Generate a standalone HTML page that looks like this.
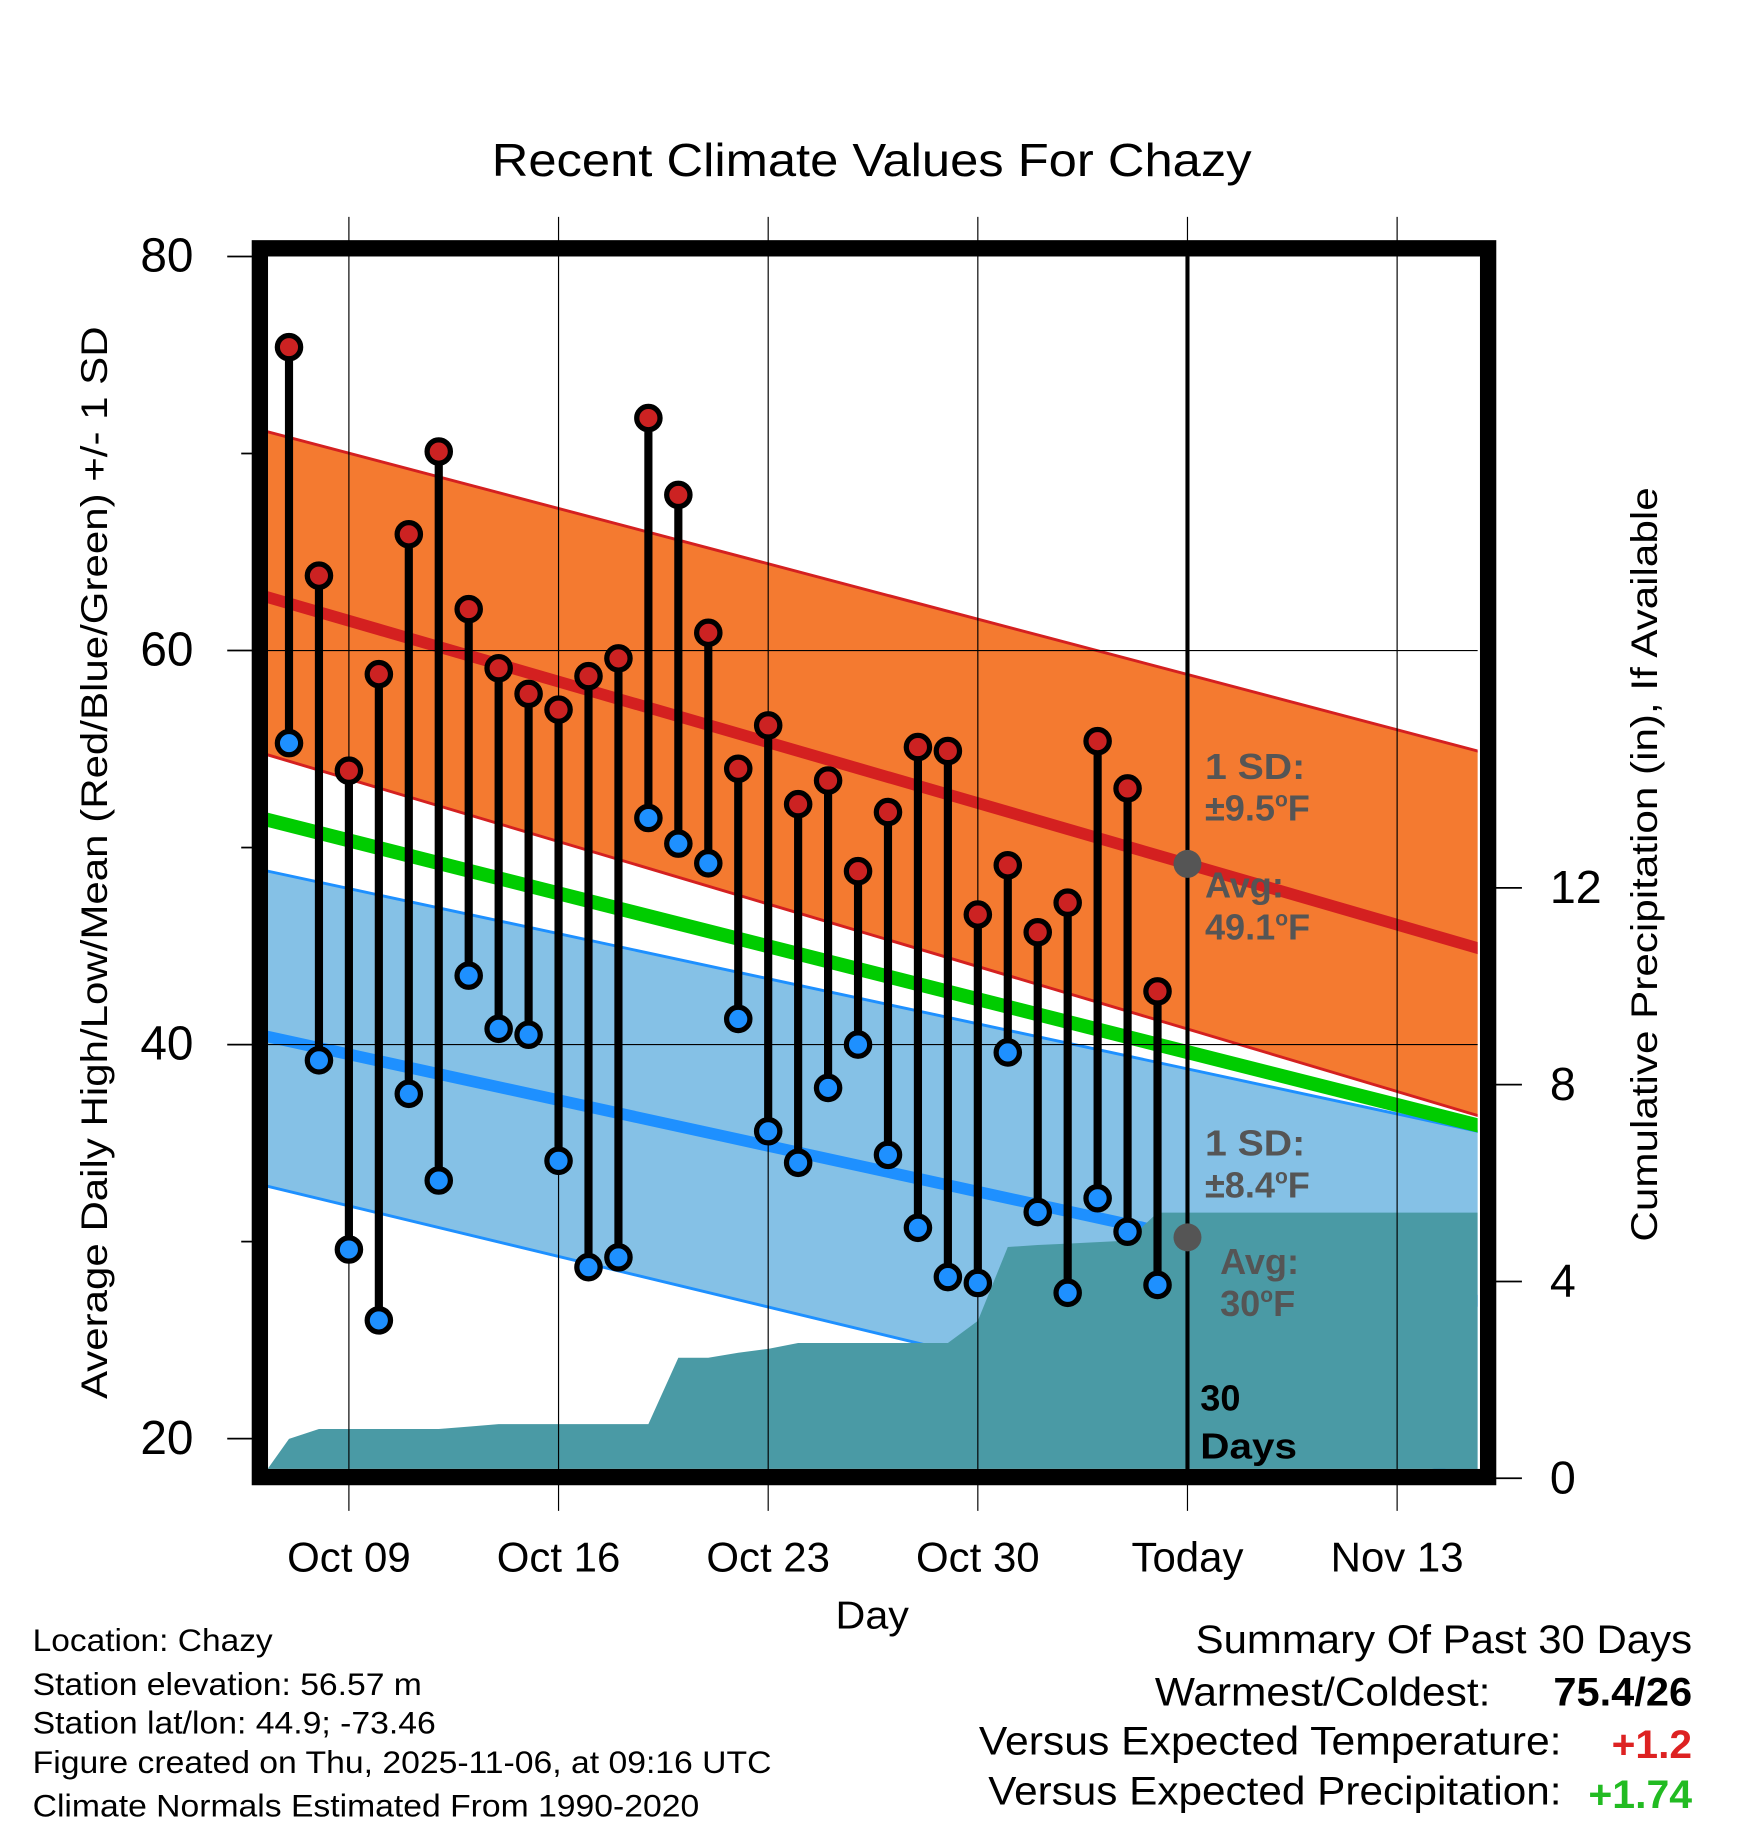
<!DOCTYPE html>
<html><head><meta charset="utf-8"><style>html,body{margin:0;padding:0;background:#fff}svg{display:block;font-family:"Liberation Sans",sans-serif}</style></head>
<body>
<svg id="chart" width="1748" height="1828" viewBox="0 0 1500 1568" preserveAspectRatio="none" xmlns="http://www.w3.org/2000/svg">
<defs><clipPath id="plotclip"><rect x="230" y="220" width="1038" height="1040"/></clipPath></defs>
<g id="bands" clip-path="url(#plotclip)"></g>
<g id="grid"></g>
<g id="marks"></g>
<rect x="223" y="213" width="1054" height="1054" fill="none" stroke="#000" stroke-width="14"/>
<g id="axes"></g>
<text x="422" y="151" font-size="40" textLength="652" lengthAdjust="spacingAndGlyphs">Recent Climate Values For Chazy</text>
<text transform="translate(92,1200) rotate(-90)" font-size="32" textLength="920" lengthAdjust="spacingAndGlyphs">Average Daily High/Low/Mean (Red/Blue/Green) +/- 1 SD</text>
<text transform="translate(1422,1065) rotate(-90)" font-size="32" textLength="647" lengthAdjust="spacingAndGlyphs">Cumulative Precipitation (in), If Available</text>
<text x="717" y="1397" font-size="33" textLength="63" lengthAdjust="spacingAndGlyphs">Day</text>
<g font-size="31" font-weight="bold" fill="#555">
<text x="1034" y="668" textLength="86" lengthAdjust="spacingAndGlyphs">1 SD:</text>
<text x="1034" y="704">±9.5<tspan font-size="18" dy="-12">o</tspan><tspan dy="12">F</tspan></text>
<text x="1034" y="770">Avg:</text>
<text x="1034" y="806">49.1<tspan font-size="18" dy="-12">o</tspan><tspan dy="12">F</tspan></text>
<text x="1034" y="991" textLength="86" lengthAdjust="spacingAndGlyphs">1 SD:</text>
<text x="1034" y="1027">±8.4<tspan font-size="18" dy="-12">o</tspan><tspan dy="12">F</tspan></text>
<text x="1047" y="1093">Avg:</text>
<text x="1047" y="1129">30<tspan font-size="18" dy="-12">o</tspan><tspan dy="12">F</tspan></text>
<text x="1030" y="1210" fill="#000">30</text>
<text x="1030" y="1251" fill="#000" textLength="83" lengthAdjust="spacingAndGlyphs">Days</text>
</g>
<g font-size="27" lengthAdjust="spacingAndGlyphs">
<text x="28" y="1416" textLength="206" lengthAdjust="spacingAndGlyphs">Location: Chazy</text>
<text x="28" y="1454" textLength="334" lengthAdjust="spacingAndGlyphs">Station elevation: 56.57 m</text>
<text x="28" y="1487" textLength="346" lengthAdjust="spacingAndGlyphs">Station lat/lon: 44.9; -73.46</text>
<text x="28" y="1521" textLength="634" lengthAdjust="spacingAndGlyphs">Figure created on Thu, 2025-11-06, at 09:16 UTC</text>
<text x="28" y="1558" textLength="572" lengthAdjust="spacingAndGlyphs">Climate Normals Estimated From 1990-2020</text>
</g>
<g font-size="34">
<text x="1026" y="1418" textLength="426" lengthAdjust="spacingAndGlyphs">Summary Of Past 30 Days</text>
<text x="991" y="1463" textLength="288" lengthAdjust="spacingAndGlyphs">Warmest/Coldest:</text>
<text x="1333" y="1463" font-weight="bold" textLength="119" lengthAdjust="spacingAndGlyphs">75.4/26</text>
<text x="840" y="1505" textLength="500" lengthAdjust="spacingAndGlyphs">Versus Expected Temperature:</text>
<text x="1383" y="1508" font-weight="bold" fill="#dd2222" textLength="69" lengthAdjust="spacingAndGlyphs">+1.2</text>
<text x="848" y="1548" textLength="492" lengthAdjust="spacingAndGlyphs">Versus Expected Precipitation:</text>
<text x="1363" y="1551" font-weight="bold" fill="#22bb22" textLength="89" lengthAdjust="spacingAndGlyphs">+1.74</text>
</g>
</svg>
<script>
const highs=[75.4,63.8,53.9,58.8,65.9,70.1,62.1,59.1,57.8,57.0,58.7,59.6,71.8,67.9,60.9,54.0,56.2,52.2,53.4,48.8,51.8,55.1,54.9,46.6,49.1,45.7,47.2,55.4,53.0,42.7];
const lows=[55.3,39.2,29.6,26.0,37.5,33.1,43.5,40.8,40.5,34.1,28.7,29.2,51.5,50.2,49.2,41.3,35.6,34.0,37.8,40.0,34.4,30.7,28.2,27.9,39.6,31.5,27.4,32.2,30.5,27.8];
const precip=[0.8,1.0,1.0,1.0,1.0,1.0,1.05,1.1,1.1,1.1,1.1,1.1,1.1,2.45,2.45,2.55,2.63,2.75,2.75,2.75,2.75,2.75,2.75,3.2,4.7,4.74,4.77,4.8,4.83,5.4];
const normHigh=[62.7,44.9], normHighUp=[71.1,54.9], normHighLo=[54.7,36.4];
const normMean=[51.4,35.9];
const normLow=[40.4,27.0], normLowUp=[48.8,35.6], normLowLo=[32.8,18.0];
const xTicks=["Oct 09","Oct 16","Oct 23","Oct 30","Today","Nov 13"];
const yTicks=[80,60,40,20];
const pTicks=[0,4,8,12];
const NS="http://www.w3.org/2000/svg";
const X=d=>248+d*25.7;
const Y=v=>220+(80-v)*16.9;
const P=p=>1268-p*42.2;
const xL=230,xR=1268,dL=(xL-248)/25.7,dR=(xR-248)/25.7;
function mk(parent,tag,attrs){const e=document.createElementNS(NS,tag);for(const k in attrs)e.setAttribute(k,attrs[k]);document.getElementById(parent).appendChild(e);return e;}
function lineAt(a,d){return a[0]+(a[1]-a[0])*(d-dL)/(dR-dL);}
function band(up,lo,fill,stroke,name){
 const pts=[[X(dL-1),Y(lineAt(up,dL-1))],[X(dR+1),Y(lineAt(up,dR+1))],[X(dR+1),Y(lineAt(lo,dR+1))],[X(dL-1),Y(lineAt(lo,dL-1))]];
 const e=mk('bands','polygon',{points:pts.map(p=>p.join(',')).join(' '),fill:fill});
 
 
 for(const a of [up,lo]){const l=mk('bands','line',{x1:X(dL-1),y1:Y(lineAt(a,dL-1)),x2:X(dR+1),y2:Y(lineAt(a,dR+1)),stroke:stroke,'stroke-width':2.5});
 
 }
}
band(normHighUp,normHighLo,'#f47a30','#d42020','high-sd-band');
band(normLowUp,normLowLo,'#85c1e6','#1e90ff','low-sd-band');
function nline(a,color,w,name){const l=mk('bands','line',{x1:X(dL-1),y1:Y(lineAt(a,dL-1)),x2:X(dR+1),y2:Y(lineAt(a,dR+1)),stroke:color,'stroke-width':w});
 
 }
nline(normHigh,'#d42020',10,'normal-high-line');
nline(normMean,'#00cc00',12,'normal-mean-line');
nline(normLow,'#1e90ff',10,'normal-low-line');
let pp=[[xL,1262],[xL,P(0.2)]];
precip.forEach((p,i)=>pp.push([X(i),P(p)]));
pp.push([xR,P(precip[precip.length-1])],[xR,1262]);
const pa=mk('bands','polygon',{points:pp.map(p=>p.join(',')).join(' '),fill:'#4a9aa5'});


xTicks.forEach((t,i)=>{const x=X(2+7*i);
 const g=mk('grid','line',{x1:x,y1:186,x2:x,y2:1296,stroke:'#000','stroke-width':1});
 
 
 const tx=mk('axes','text',{x:x,y:1348,'font-size':36,'text-anchor':'middle'});tx.textContent=t;
 
 });
yTicks.forEach(v=>{const y=Y(v);
 if(v<80&&v>20){const g=mk('grid','line',{x1:230,y1:y,x2:1268,y2:y,stroke:'#000','stroke-width':1});
 
 }
 const t=mk('axes','line',{x1:195,y1:y,x2:218,y2:y,stroke:'#000','stroke-width':1.5});
 
 
 const tx=mk('axes','text',{x:166,y:y+13,'font-size':41,'text-anchor':'end'});tx.textContent=v;
 
 });
[70,50,30].forEach(v=>{const t=mk('axes','line',{x1:207,y1:Y(v),x2:218,y2:Y(v),stroke:'#000','stroke-width':1.5});
 
 });
pTicks.forEach(p=>{const y=P(p);
 const t=mk('axes','line',{x1:1282,y1:y,x2:1306,y2:y,stroke:'#000','stroke-width':1.5});
 
 
 const tx=mk('axes','text',{x:1330,y:y+13,'font-size':40});tx.textContent=p;
 
 });
const td=mk('marks','line',{x1:X(30),y1:220,x2:X(30),y2:1262,stroke:'#000','stroke-width':3.5});


highs.forEach((h,i)=>{const s=mk('marks','line',{x1:X(i),y1:Y(h),x2:X(i),y2:Y(lows[i]),stroke:'#000','stroke-width':7});
 
 });
highs.forEach((h,i)=>{const c=mk('marks','circle',{cx:X(i),cy:Y(h),r:10,fill:'#cc2222',stroke:'#000','stroke-width':4.5});
 
 
 const c2=mk('marks','circle',{cx:X(i),cy:Y(lows[i]),r:10,fill:'#1e90ff',stroke:'#000','stroke-width':4.5});
 
 });
const a1=mk('marks','circle',{cx:X(30),cy:Y(lineAt(normHigh,30)),r:12,fill:'#555'});


const a2=mk('marks','circle',{cx:X(30),cy:Y(lineAt(normLow,30)),r:12,fill:'#555'});


</script>
</body></html>
